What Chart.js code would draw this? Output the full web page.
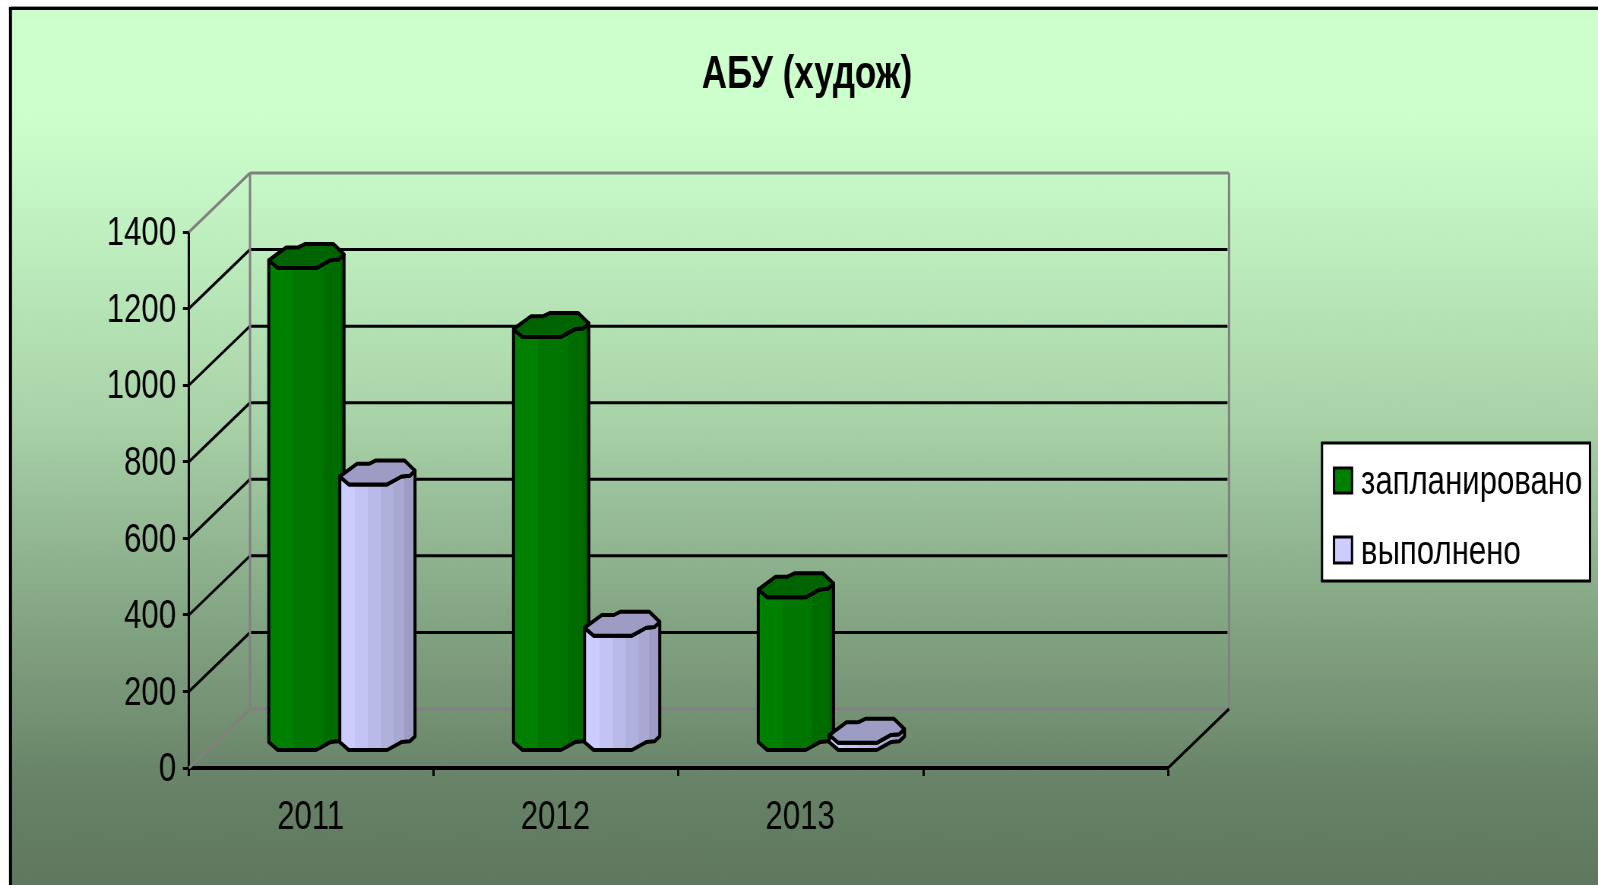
<!DOCTYPE html>
<html>
<head>
<meta charset="utf-8">
<style>
html,body{margin:0;padding:0;background:#fff;overflow:hidden;width:1598px;height:885px}
#wrap{position:absolute;left:0;top:0;width:1598px;height:885px;overflow:hidden}
canvas{position:absolute;left:0;top:0;transform-origin:0 0}
</style>
</head>
<body>
<div id="wrap"><canvas id="c" width="2103" height="885"></canvas></div>
<script src="https://cdn.jsdelivr.net/npm/chart.js@4"></script>
<script>
const categories = ['2011', '2012', '2013', ''];
const planned = [1260, 1080, 400, null];
const done = [695, 300, 20, null];
const titleText = 'АБУ (худож)';
const plannedLabel = 'запланировано';
const doneLabel = 'выполнено';
const tickStep = 200, yMax = 1400;

// The reference is a horizontally squeezed picture: draw wide, squeeze with CSS.
const LW = 2103, LH = 885, S = 1598 / LW;
const px = v => v / S;               // screen x -> logical x
const DX = px(61), DY = -59;         // depth of the 3D box
const FONT = 'Liberation Sans, Arial, sans-serif';
const GREY = '#808080';

const canvas = document.getElementById('c');
canvas.style.transform = 'scaleX(' + S + ')';

const box3d = {
  id: 'box3d',
  afterLayout(chart) {
    // centre the title over the whole frame, not only over the plot
    chart.titleBlock.right = LW;
  },
  beforeDraw(chart) {
    const c = chart.ctx, W = chart.width, H = chart.height;
    c.save();
    c.fillStyle = '#fff'; c.fillRect(0, 0, W, H);
    const g = c.createLinearGradient(0, 9, 0, H);
    [[0, '#CCFFCC'], [0.115, '#CCFFCC'], [0.172, '#C8FAC8'], [0.40, '#B0DCB0'], [0.47, '#A8D2A8'], [0.68, '#86A886'], [0.89, '#678267'], [1, '#5F785F']]
      .forEach(s => g.addColorStop(s[0], s[1]));
    c.fillStyle = g; c.fillRect(px(11), 9, W, H);
    c.fillStyle = '#000';
    c.fillRect(px(9), 7, W, 3);
    c.fillRect(px(9), 7, px(3), H);
    c.fillStyle = '#999'; c.fillRect(px(10), 6, W, 1);
    c.restore();
  },
  beforeDatasetsDraw(chart) {
    const c = chart.ctx, y = chart.scales.y, a = chart.chartArea;
    const line = (x1, y1, x2, y2, col, w) => {
      c.strokeStyle = col; c.lineWidth = w; c.beginPath();
      c.moveTo(x1, y1); c.lineTo(x2, y2); c.stroke();
    };
    c.save();
    const l = a.left, r = a.right, y0 = y.getPixelForValue(0), yT = y.getPixelForValue(yMax);
    y.ticks.forEach(t => {
      if (t.value === 0 || t.value === yMax) return;
      const p = y.getPixelForValue(t.value);
      line(l + DX, p + DY, r + DX - 2, p + DY, '#000', 3);
      line(l, p, l + DX, p + DY, '#000', 3);
    });
    line(l, yT, l + DX, yT + DY, GREY, 3);
    line(l, y0, l + DX, y0 + DY, GREY, 3);
    line(l + DX, yT + DY, r + DX, yT + DY, GREY, 3);
    line(l + DX, yT + DY, l + DX, y0 + DY, GREY, 3);
    line(r + DX, yT + DY, r + DX, y0 + DY, GREY, 3);
    line(l + DX, y0 + DY, r + DX, y0 + DY, GREY, 3);
    line(r, y0, r + DX, y0 + DY, '#000', 3);
    c.restore();
  },
  beforeDatasetDraw() { return false; },
  afterDatasetsDraw(chart) {
    const c = chart.ctx;
    const CAP = 24, WIDEN = 1.06;
    const front = [[0, .67], [.12, 1], [.63, 1], [.82, .67], [.93, .64], [1, .43]];
    const back = [[.86, 0], [.48, 0], [.39, .14], [.23, .14]];
    const looks = [
      { top: '#006400', facets: [[0, '#008000'], [.33, '#007600'], [.72, '#006C00'], [.95, '#006000'], [1, '#005C00']] },
      { top: '#9C9CC4', facets: [[0, '#CCCCFF'], [.2, '#C4C4F4'], [.38, '#BABAE8'], [.55, '#B0B0DC'], [.72, '#A8A8D2'], [.86, '#9C9CC4'], [1, '#9090B8']] }
    ];
    chart.data.datasets.forEach((ds, di) => {
      const look = looks[di];
      chart.getDatasetMeta(di).data.forEach((el, i) => {
        if (ds.data[i] == null) return;
        const w = el.width * WIDEN, left = el.x + DX / 2 - w / 2;
        const yTop = el.y + DY / 2, yBase = el.base + DY / 2;
        const pt = (p, yc) => [left + p[0] * w, yc - CAP / 2 + p[1] * CAP];
        const grad = c.createLinearGradient(left, 0, left + w, 0);
        look.facets.forEach((f, k) => {
          grad.addColorStop(f[0], f[1]);
          const nx = look.facets[k + 1];
          if (nx) grad.addColorStop(Math.max(f[0], nx[0] - .005), f[1]);
        });
        c.save();
        c.lineJoin = 'round'; c.lineWidth = 4; c.strokeStyle = '#000';
        c.beginPath();
        front.forEach((p, k) => { const q = pt(p, yTop); k ? c.lineTo(q[0], q[1]) : c.moveTo(q[0], q[1]); });
        front.slice().reverse().forEach(p => { const q = pt(p, yBase); c.lineTo(q[0], q[1]); });
        c.closePath();
        c.fillStyle = grad; c.fill(); c.stroke();
        c.beginPath();
        front.concat(back).forEach((p, k) => { const q = pt(p, yTop); k ? c.lineTo(q[0], q[1]) : c.moveTo(q[0], q[1]); });
        c.closePath();
        c.fillStyle = look.top; c.fill(); c.stroke();
        c.restore();
      });
    });
  },
  afterDraw(chart) {
    const c = chart.ctx;
    c.save();
    c.fillStyle = '#fff'; c.strokeStyle = '#000'; c.lineWidth = 3;
    c.fillRect(px(1322), 443, px(268), 138);
    c.strokeRect(px(1322), 443, px(268), 138);
    const rows = [[483, 468, 25], [553, 537, 26]];
    chart.data.datasets.forEach((ds, i) => {
      c.fillStyle = ds.backgroundColor; c.strokeStyle = '#000'; c.lineWidth = 3;
      c.fillRect(px(1334), rows[i][1], px(18), rows[i][2]);
      c.strokeRect(px(1334), rows[i][1], px(18), rows[i][2]);
      c.fillStyle = '#000';
      c.font = '41px ' + FONT; c.textBaseline = 'middle'; c.textAlign = 'left';
      c.fillText(ds.label, px(1361), rows[i][0]);
    });
    c.restore();
  }
};

new Chart(canvas, {
  type: 'bar',
  plugins: [box3d],
  data: {
    labels: categories,
    datasets: [
      { label: plannedLabel, data: planned, backgroundColor: '#008000' },
      { label: doneLabel, data: done, backgroundColor: '#CCCCFF' }
    ]
  },
  options: {
    responsive: false,
    animation: false,
    devicePixelRatio: 1,
    events: [],
    layout: { autoPadding: false, padding: { left: 21, right: LW - px(1168), top: 0, bottom: 0 } },
    plugins: {
      legend: { display: false },
      tooltip: { enabled: false },
      title: {
        display: true,
        text: titleText,
        color: '#000',
        font: { family: FONT, size: 46, weight: 'bold', lineHeight: 1.2 },
        padding: { top: 48, bottom: 128.8 }
      }
    },
    datasets: { bar: { categoryPercentage: 0.58, barPercentage: 1 } },
    scales: {
      x: {
        offset: true,
        afterFit(s) { s.height = 117; },
        grid: { drawOnChartArea: false, drawTicks: true, tickLength: 8, tickWidth: 3, tickColor: '#000', offset: true },
        border: { display: true, color: '#000', width: 4 },
        ticks: { color: '#000', padding: 17, labelOffset: -1, maxRotation: 0, autoSkip: false, font: { family: FONT, size: 41 } }
      },
      y: {
        min: 0, max: yMax,
        afterFit(s) { s.width = px(189) - 21; },
        grid: { drawOnChartArea: false, drawTicks: true, tickLength: 8, tickWidth: 3, tickColor: '#000' },
        border: { display: true, color: '#000', width: 3 },
        ticks: { stepSize: tickStep, color: '#000', padding: 9, labelOffset: 2, callback: v => String(v), font: { family: FONT, size: 41 } }
      }
    }
  }
});
</script>
</body>
</html>
